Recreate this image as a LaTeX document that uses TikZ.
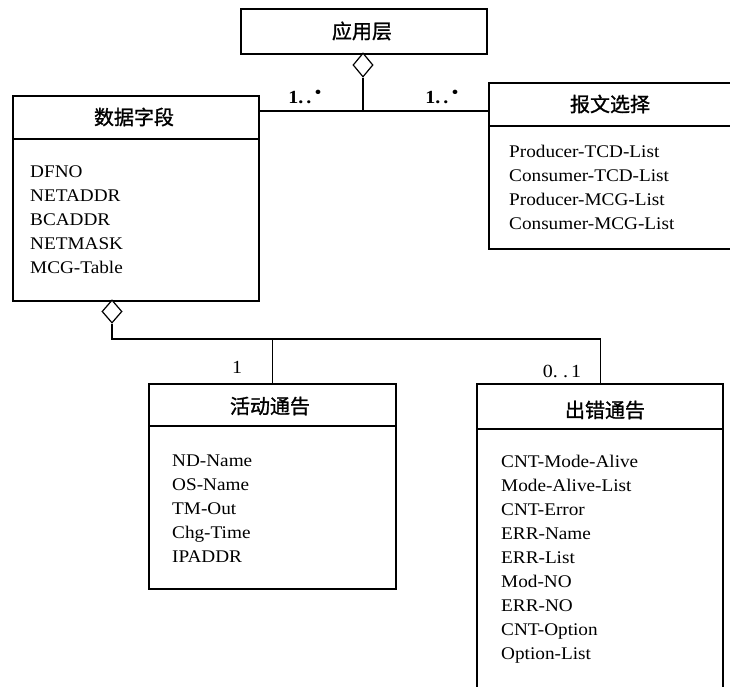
\documentclass[tikz,border=0pt]{standalone}
\usepackage{fontspec}
\setmainfont{Liberation Serif}[FakeStretch=1.08]
\newfontfamily\cjk{Noto Sans CJK SC}[FakeBold=1.2]
\usetikzlibrary{shapes.geometric}
\begin{document}
\begin{tikzpicture}[x=1pt,y=-1pt,
  box/.style={draw, line width=2.2pt, inner sep=0pt, anchor=north west},
  sepline/.style={line width=2.2pt},
  head/.style={font=\cjk\fontsize{20}{20}\selectfont, inner sep=0pt},
  items/.style={font=\fontsize{17.8}{24}\selectfont, align=left, anchor=north west, inner sep=0pt},
  link/.style={line width=1.2pt},
  agg/.style={draw, shape=diamond, fill=white, line width=1.2pt, inner sep=0pt, minimum width=20pt, minimum height=24pt},
  mult/.style={font=\fontsize{18.5}{18.5}\selectfont, anchor=base, inner sep=0pt}]
\clip (0,0) rectangle (730,686);
\fill[white] (0,0) rectangle (730,686);

% class boxes
\node[box, minimum width=246pt, minimum height=45pt] (app) at (240,8) {};
\node[box, minimum width=246pt, minimum height=205pt] (ds) at (12,95) {};
\node[box, minimum width=262pt, minimum height=166pt] (bw) at (488,82) {};
\node[box, minimum width=247pt, minimum height=205pt] (an) at (148,383) {};
\node[box, minimum width=246pt, minimum height=330pt] (ee) at (476,383) {};

% header separators
\draw[sepline] (ds.west |- 0,139) -- (ds.east |- 0,139);
\draw[sepline] (bw.west |- 0,126) -- (bw.east |- 0,126);
\draw[sepline] (an.west |- 0,426) -- (an.east |- 0,426);
\draw[sepline] (ee.west |- 0,429) -- (ee.east |- 0,429);

% headers
\node[head] (appT) at (362,31) {应用层};
\node[head] (dsT) at (134,117) {数据字段};
\node[head] (bwT) at (610,104) {报文选择};
\node[head] (anT) at (270,406) {活动通告};
\node[head] (eeT) at (605,410) {出错通告};

% attribute lists
\node[items] (dsL) at (30,160.2) {\strut DFNO\\NETADDR\\BCADDR\\NETMASK\\MCG-Table};
\node[items] (bwL) at (509,140.2) {\strut Producer-TCD-List\\Consumer-TCD-List\\Producer-MCG-List\\Consumer-MCG-List};
\node[items] (anL) at (172,449.2) {\strut ND-Name\\OS-Name\\TM-Out\\Chg-Time\\IPADDR};
\node[items] (eeL) at (501,450.2) {\strut CNT-Mode-Alive\\Mode-Alive-List\\CNT-Error\\ERR-Name\\ERR-List\\Mod-NO\\ERR-NO\\CNT-Option\\Option-List};

% aggregation diamonds
\node[agg] (d1) at (363,65) {};
\node[agg, minimum height=23pt] (d2) at (112,311.5) {};

% connectors
\coordinate (j1) at (363,111);
\draw[link] (d1.south) -- (j1);
\draw[link] (ds.east |- j1) -- (bw.west |- j1);
\coordinate (j2) at (112,339);
\draw[link] (d2.south) -- (j2) -| (ee.north);
\draw[link] (an.north) -- (an.north |- j2);

% multiplicities
\node[mult] (m1) at (305,103) {\textbf{1.\,.}\,\raisebox{0.5ex}{\textbullet}};
\node[mult] (m2) at (442,103) {\textbf{1.\,.}\,\raisebox{0.5ex}{\textbullet}};
\node[mult] (m3) at (237,373) {1};
\node[mult] (m4) at (562,377) {0.\;.\,1};
\end{tikzpicture}
\end{document}
